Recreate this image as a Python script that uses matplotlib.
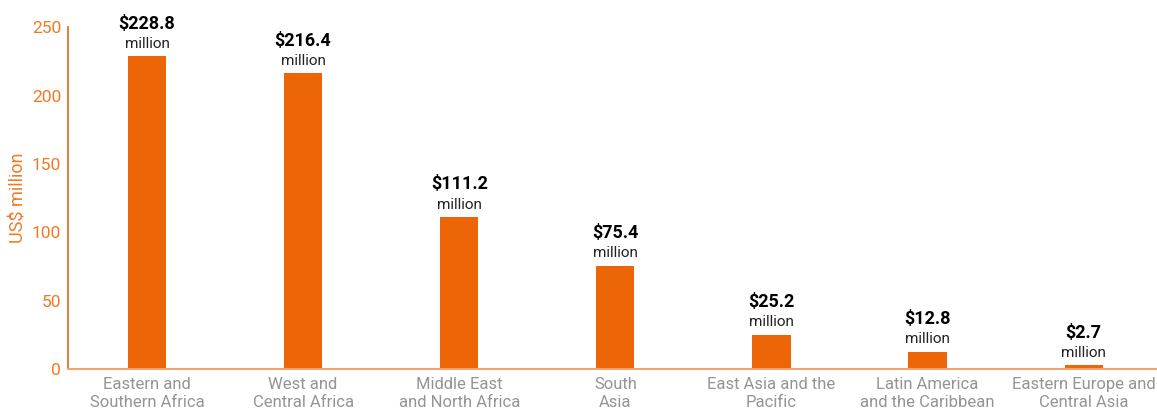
import matplotlib
matplotlib.use('Agg')
import matplotlib.pyplot as plt
import numpy as np

plt.rcParams['font.family'] = ['Roboto', 'DejaVu Sans']

regiones = ['Eastern and\nSouthern Africa', 'West and\nCentral Africa',
            'Middle East\nand North Africa', 'South\nAsia',
            'East Asia and the\nPacific', 'Latin America\nand the Caribbean',
            'Eastern Europe and\nCentral Asia']
montos = [228.8, 216.4, 111.2, 75.4, 25.2, 12.8, 2.7]
yticks = [0, 50, 100, 150, 200, 250]

naranja = '#EC6608'
naranja_claro = '#F4A46A'

fig = plt.figure(figsize=(11.57, 4.13), dpi=100)
ax = fig.add_axes([0.0588, 0.1065, 0.9412, 0.827])

x = np.arange(len(regiones))
ax.bar(x, montos, width=0.245, color=naranja, zorder=2)

for xi, v in zip(x, montos):
    ax.annotate('million', (xi, v), xytext=(0, 4), textcoords='offset points',
                ha='center', va='bottom', fontsize=11, color='#222222')
    ax.annotate(f'${v}', (xi, v), xytext=(0, 17), textcoords='offset points',
                ha='center', va='bottom', fontsize=13, fontweight='bold', color='black')

ax.set_xlim(-0.506, 6.47)
ax.set_ylim(0, 250)
ax.set_xticks(x)
ax.set_xticklabels(regiones, fontsize=12, color='#949494', linespacing=1.2)
ax.set_yticks(yticks)
ax.set_yticklabels([str(t) for t in yticks], fontsize=12.5, color='#F07A22')
ax.tick_params(axis='both', length=0)
ax.tick_params(axis='x', pad=6)
ax.tick_params(axis='y', pad=5)
ax.set_ylabel('US$ million', fontsize=13, color='#F07A22')
ax.yaxis.set_label_coords(-0.037, 0.5)

for lado in ['top', 'right']:
    ax.spines[lado].set_visible(False)
ax.spines['left'].set_color(naranja)
ax.spines['left'].set_linewidth(1.2)
ax.spines['bottom'].set_color(naranja_claro)
ax.spines['bottom'].set_linewidth(1.5)

fig.savefig('out.png', dpi=100)
